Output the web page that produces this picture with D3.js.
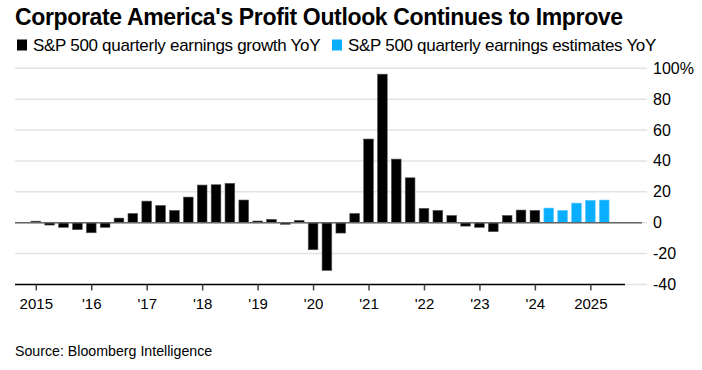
<!DOCTYPE html>
<html lang="en">
<head>
  <meta charset="utf-8">
  <script src="https://d3js.org/d3.v7.min.js"></script>
  <style>
    body { margin: 0; background: #fff; }
    text { font-family: "Liberation Sans", Arial, sans-serif; }
  </style>
</head>
<body>
<script>
  // quarterly earnings growth, 2015 Q1 .. 2024 Q1 (actual)
  const actualValues = [1, -1.5, -3, -4.5, -6.5, -3, 3, 6, 14, 11.2, 8, 16.6,
    24.4, 24.6, 25.5, 14.7, 1.1, 2.2, -1, 1.5, -17.5, -30.9, -6.7, 6,
    54.2, 96.2, 41.2, 29.1, 9.3, 8, 4.7, -2.2, -3, -5.8, 4.7, 8.2, 8];
  // estimates, 2024 Q2 .. 2025 Q2
  const estimateValues = [9.5, 8, 12.7, 14.5, 14.7];
  const yTicks = [-40, -20, 0, 20, 40, 60, 80, 100];
  const yearLabels = ["2015", "'16", "'17", "'18", "'19", "'20", "'21", "'22", "'23", "'24", "2025"];

  const W = 702, H = 370;
  const svg = d3.select("body").append("svg")
    .attr("width", W).attr("height", H);

  const bars = actualValues.map((v, i) => ({i: i, v: v, est: false}))
    .concat(estimateValues.map((v, j) => ({i: actualValues.length + j, v: v, est: true})));

  const x = d3.scaleLinear().domain([-1.5, 42.5]).range([15, 625]);
  const y = d3.scaleLinear().domain([-40, 100]).range([284.5, 68.3]);
  const step = x(1) - x(0);
  const bw = step * 0.7;

  // title
  svg.append("text")
    .attr("x", 15).attr("y", 25)
    .attr("font-size", 23).attr("font-weight", "bold")
    .attr("letter-spacing", -0.35)
    .attr("fill", "#000")
    .text("Corporate America's Profit Outlook Continues to Improve");

  // legend
  const legend = [
    {label: "S&P 500 quarterly earnings growth YoY", color: "#000", x: 17},
    {label: "S&P 500 quarterly earnings estimates YoY", color: "#0aaeff", x: 332}
  ];
  legend.forEach(d => {
    svg.append("rect").attr("x", d.x).attr("y", 39.5)
      .attr("width", 10).attr("height", 11).attr("fill", d.color);
    svg.append("text").attr("x", d.x + 16).attr("y", 51)
      .attr("font-size", 17).attr("letter-spacing", -0.3)
      .attr("fill", "#000").text(d.label);
  });

  // gridlines
  svg.append("g").selectAll("line")
    .data(yTicks)
    .join("line")
    .attr("x1", 15).attr("x2", 647)
    .attr("y1", d => y(d)).attr("y2", d => y(d))
    .attr("stroke", "#e3e3e3").attr("stroke-width", 1.5);

  // y labels (right)
  svg.append("g").selectAll("text")
    .data(yTicks)
    .join("text")
    .attr("x", 653)
    .attr("y", d => y(d) + 5.5)
    .attr("font-size", 16)
    .attr("fill", "#000")
    .text(d => d === 100 ? "100%" : d);

  // bars
  svg.append("g").selectAll("rect")
    .data(bars)
    .join("rect")
    .attr("x", d => x(d.i) - bw / 2)
    .attr("width", bw)
    .attr("y", d => y(Math.max(0, d.v)))
    .attr("height", d => Math.abs(y(d.v) - y(0)))
    .attr("fill", d => d.est ? "#0aaeff" : "#000")
    .attr("stroke", d => d.est ? "#5cc8ff" : "#555")
    .attr("stroke-width", 0.6);

  // zero line
  svg.append("line")
    .attr("x1", 15).attr("x2", 642)
    .attr("y1", y(0)).attr("y2", y(0))
    .attr("stroke", "#666").attr("stroke-width", 1.5);

  // x axis
  const yearIdx = yearLabels.map((d, k) => k * 4);
  const xAxis = d3.axisBottom(x)
    .tickValues(yearIdx)
    .tickFormat((d, k) => yearLabels[k])
    .tickSize(6)
    .tickPadding(8);
  const gx = svg.append("g")
    .attr("transform", "translate(0," + y(-40) + ")")
    .call(xAxis);
  gx.select(".domain").attr("stroke", "#000").attr("stroke-width", 1.5)
    .attr("d", "M15,0H625");
  gx.selectAll(".tick line").attr("stroke", "#444").attr("stroke-width", 1.5);
  gx.selectAll(".tick text")
    .attr("font-size", 15).attr("fill", "#000")
    .attr("font-family", "Liberation Sans, Arial, sans-serif");

  // source
  svg.append("text")
    .attr("x", 15).attr("y", 356)
    .attr("font-size", 14.2).attr("fill", "#000")
    .text("Source: Bloomberg Intelligence");
</script>
</body>
</html>
